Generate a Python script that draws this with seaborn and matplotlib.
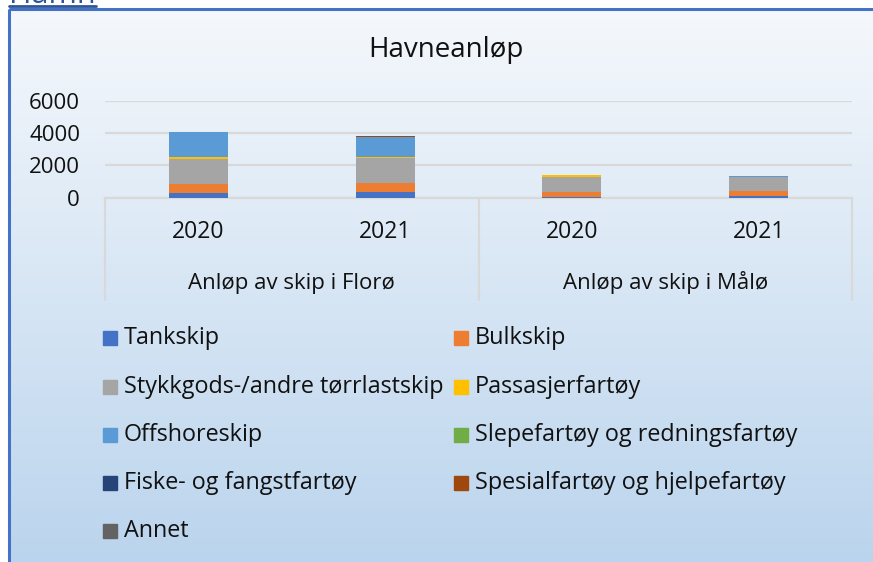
import numpy as np
import pandas as pd
import matplotlib
matplotlib.use("Agg")
import matplotlib.pyplot as plt
from matplotlib.patches import Rectangle
from matplotlib.lines import Line2D
from matplotlib.transforms import blended_transform_factory
import seaborn as sns

sns.set_theme(style="white")
plt.rcParams["font.family"] = ["Open Sans", "DejaVu Sans"]

# ---- data -------------------------------------------------------------
years = ["2020", "2021", "2020", "2021"]
groups = ["Anløp av skip i Florø", "Anløp av skip i Målø"]
series = [
    "Tankskip",
    "Bulkskip",
    "Stykkgods-/andre tørrlastskip",
    "Passasjerfartøy",
    "Offshoreskip",
    "Slepefartøy og redningsfartøy",
    "Fiske- og fangstfartøy",
    "Spesialfartøy og hjelpefartøy",
    "Annet",
]
tankskip = [300, 350, 60, 100]
bulkskip = [550, 560, 290, 330]
stykkgods = [1580, 1560, 960, 830]
passasjer = [100, 60, 100, 10]
offshore = [1520, 1260, 10, 80]
slepe = [0, 0, 0, 0]
fiske = [0, 0, 0, 0]
spesial = [10, 60, 0, 0]
annet = [0, 0, 0, 0]
values = [tankskip, bulkskip, stykkgods, passasjer, offshore, slepe, fiske, spesial, annet]
yticks = [0, 2000, 4000, 6000]

colors = ["#4472C4", "#ED7D31", "#A5A5A5", "#FFC000", "#5B9BD5",
          "#70AD47", "#264478", "#9E480E", "#636363"]

W, H = 873, 562
fig = plt.figure(figsize=(W / 100, H / 100), dpi=100)


def fx(px):
    return px / W


def fy(py):
    return 1 - py / H


# ---- chart area background with vertical gradient ---------------------
bg = fig.add_axes([0, 0, 1, 1])
bg.axis("off")
top = np.array([245, 248, 252]) / 255
bot = np.array([186, 212, 237]) / 255
t = np.linspace(0, 1, 400)[:, None]
grad = (top[None, :] * (1 - t) + bot[None, :] * t)[:, None, :]
bg.add_patch(Rectangle((0, 0), W, H, color="white", zorder=0))
bg.imshow(grad, extent=(9, W + 5, H + 5, 9), aspect="auto", zorder=1)
bg.add_patch(Rectangle((9, 9), W + 20, H + 20, fill=False,
                       edgecolor="#4472C4", lw=2.2, zorder=3))
bg.set_xlim(0, W)
bg.set_ylim(H, 0)
# link-style caption above the chart frame
bg.text(9, 3, "Hamn", color="#2F5597", fontsize=22, va="baseline",
        ha="left", zorder=4)
bg.plot([9, 96], [5.5, 5.5], color="#2F5597", lw=2, zorder=4)

# ---- plot area --------------------------------------------------------
x_left, x_right, y_zero, y_top = 105, 852, 197.7, 101
ax = fig.add_axes([fx(x_left), fy(y_zero), fx(x_right - x_left), (y_zero - y_top) / H])
ax.set_facecolor("none")

cats = [f"c{i}" for i in range(len(years))]
cum = np.cumsum(np.array(values, dtype=float), axis=0)
for k in range(len(series) - 1, -1, -1):
    df = pd.DataFrame({"cat": cats, "val": cum[k]})
    sns.barplot(data=df, x="cat", y="val", color=colors[k], width=0.316,
                saturation=1, ax=ax, zorder=3, edgecolor="none")

ax.set_xlim(-0.5, len(years) - 0.5)
ax.set_ylim(0, 6000)
ax.set_yticks(yticks)
ax.set_yticklabels([str(v) for v in yticks], fontsize=16, color="#111111")
ax.tick_params(axis="y", length=0, pad=18)
ax.set_xticks([])
ax.set_xlabel("")
ax.set_ylabel("")
for s in ["top", "right", "left"]:
    ax.spines[s].set_visible(False)
ax.spines["bottom"].set_color("#D9D9D9")
ax.spines["bottom"].set_linewidth(1.6)
ax.yaxis.grid(True, color="#D9D9D9", lw=1.6, zorder=0)
ax.set_axisbelow(True)

# two-level category axis
tr = blended_transform_factory(ax.transData, fig.transFigure)
for i, yr in enumerate(years):
    ax.text(i, fy(232), yr, transform=tr, ha="center", va="center",
            fontsize=16.5, color="#111111")
for g, lab in enumerate(groups):
    ax.text(g * 2 + 0.5, fy(283), lab, transform=tr, ha="center", va="center",
            fontsize=16, color="#111111")
for xb in [-0.5, 1.5, 3.5]:
    ax.add_line(Line2D([xb, xb], [fy(y_zero), fy(300)], transform=tr,
                       color="#D9D9D9", lw=1.6, clip_on=False))

# ---- legend (row-major, two columns) ----------------------------------
col_x = [103, 454]
row_y = [338, 387, 435, 483, 531]
for i, (name, c) in enumerate(zip(series, colors)):
    r, cidx = divmod(i, 2)
    x0, yc = col_x[cidx], row_y[r]
    bg.add_patch(Rectangle((x0, yc - 7), 14, 14, color=c, zorder=5))
    bg.text(x0 + 21, yc, name, fontsize=16.8, va="center", ha="left",
            color="#111111", zorder=5)

fig.text(fx(446), fy(50), "Havneanløp", fontsize=20, ha="center",
         va="center", color="#111111")

fig.savefig("out.png", dpi=100)
